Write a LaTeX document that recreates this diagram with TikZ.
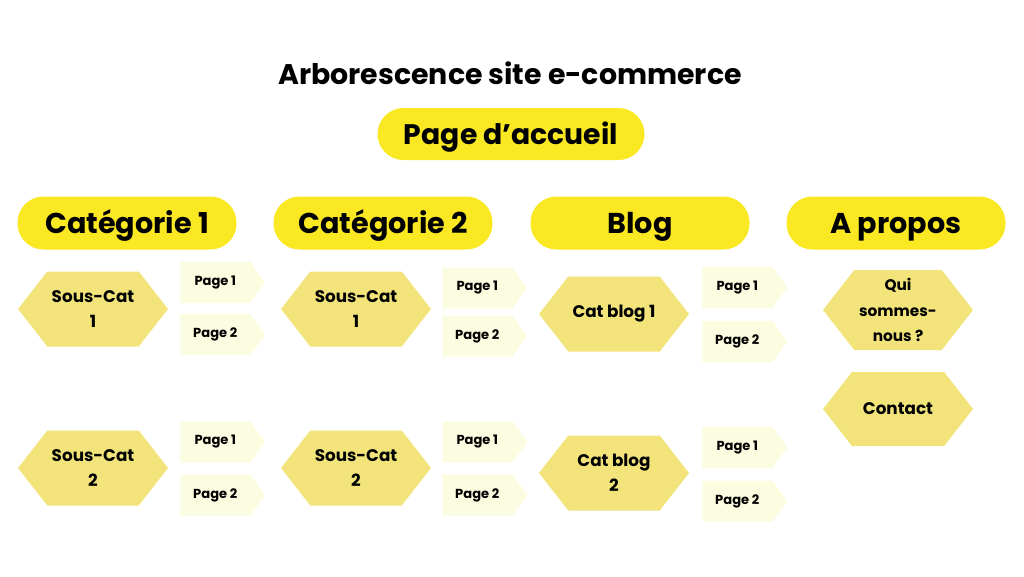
\documentclass[tikz,border=0pt]{standalone}
\usepackage{fontspec}
\setmainfont{Poppins}
\usetikzlibrary{shapes.symbols}

\newdimen\px
\px=0.75pt

\definecolor{pillyellow}{RGB}{250,232,35}
\definecolor{hexyellow}{RGB}{242,228,122}
\definecolor{tagyellow}{RGB}{252,252,224}

\tikzset{
	pill/.style={shape=rectangle,rounded corners=26\px,fill=pillyellow,inner sep=0pt,
		minimum width=219\px,minimum height=53\px,text height=15pt,text depth=0pt,
		font=\fontsize{21.5}{25}\selectfont\bfseries},
	hexa/.style={shape=signal,signal to=west and east,signal pointer angle=104,fill=hexyellow,
		inner sep=0pt,minimum width=150\px,minimum height=75\px,align=center,
		font=\fontsize{12.6}{18.8}\selectfont\bfseries},
	tag/.style={shape=signal,signal to=east,signal pointer angle=108,fill=tagyellow,
		inner sep=0pt,anchor=west,minimum width=85\px,minimum height=41\px,
		font=\fontsize{9.8}{11}\selectfont\bfseries}
}

\begin{document}
\begin{tikzpicture}[x=0.75pt,y=-0.75pt]
	
	\useasboundingbox (0,0) rectangle (1024,576);
	
	\node[font=\fontsize{21.3}{25}\selectfont\bfseries] (titre) at (510, 73) {Arborescence site e-commerce};
	\node[pill,minimum width=267\px,minimum height=52\px,font=\fontsize{21.2}{25}\selectfont\bfseries] (accueil) at (511, 134) {Page d’accueil};
	
	\node[pill] (cat1) at (127, 223) {Catégorie 1};
	\node[pill] (cat2) at (383, 223) {Catégorie 2};
	\node[pill] (blog) at (640, 223) {Blog};
	\node[pill] (apropos) at (896, 223) {A propos};
	
	% Catégorie 1
	\node[hexa] (sc11) at (93, 309) {Sous-Cat\\1};
	\node[hexa] (sc12) at (93, 468) {Sous-Cat\\2};
	\node[tag] (p111) at (180, 282.5) {Page 1};
	\node[tag] (p112) at (180, 334.5) {Page 2};
	\node[tag] (p121) at (180, 442)   {Page 1};
	\node[tag] (p122) at (180, 495)   {Page 2};
	
	% Catégorie 2
	\node[hexa] (sc21) at (356, 309) {Sous-Cat\\1};
	\node[hexa] (sc22) at (356, 468) {Sous-Cat\\2};
	\node[tag] (p211) at (442, 288)   {Page 1};
	\node[tag] (p212) at (442, 336)   {Page 2};
	\node[tag] (p221) at (442, 442)   {Page 1};
	\node[tag] (p222) at (442, 495)   {Page 2};
	
	% Blog
	\node[hexa] (cb1) at (614, 314) {Cat blog 1};
	\node[hexa] (cb2) at (614, 473) {Cat blog\\2};
	\node[tag] (p311) at (702, 287.5) {Page 1};
	\node[tag] (p312) at (702, 341.5) {Page 2};
	\node[tag] (p321) at (702, 447.5) {Page 1};
	\node[tag] (p322) at (702, 501)   {Page 2};
	
	% A propos
	\node[hexa,minimum height=80\px,font=\fontsize{11.5}{19}\selectfont\bfseries] (qui) at (898, 310) {Qui\\sommes-\\nous ?};
	\node[hexa,minimum height=74\px] (contact) at (898, 409) {Contact};
	
\end{tikzpicture}
\end{document}
